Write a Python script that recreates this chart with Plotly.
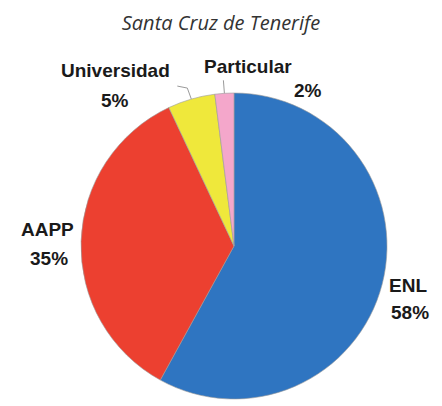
import math
import plotly.graph_objects as go

labels = ["ENL", "AAPP", "Universidad", "Particular"]
values = [58, 35, 5, 2]
colors = ["#2f75c1", "#ec4030", "#efe83b", "#f4a7cb"]

W, H = 442, 406
CX, CY, R = 234, 246, 153  # pie centre / radius in pixels


def px(x, y):
    return x / W, 1 - y / H


fig = go.Figure(go.Pie(
    labels=labels,
    values=values,
    sort=False,
    direction="clockwise",
    rotation=0,
    marker=dict(colors=colors, line=dict(color="#9a9a9a", width=0.6)),
    textinfo="none",
    domain=dict(x=[(CX - R) / W, (CX + R) / W], y=[1 - (CY + R) / H, 1 - (CY - R) / H]),
    showlegend=False,
    hoverinfo="label+percent",
))

# label placement (pixel centres of the two text lines per slice)
label_pos = {
    "ENL": ((408, 285), (410, 312)),
    "AAPP": ((47, 229), (49, 258)),
    "Universidad": ((115, 70), (115, 100)),
    "Particular": ((248, 66), (308, 90)),
}

font = dict(family="Liberation Sans, Arial, sans-serif", size=19, color="#1a1a1a")
total = sum(values)
annotations = []
for lab, val in zip(labels, values):
    (x1, y1), (x2, y2) = label_pos[lab]
    pct = round(100 * val / total)
    for txt, (x, y) in ((lab, (x1, y1)), (f"{pct}%", (x2, y2))):
        ax, ay = px(x, y)
        annotations.append(dict(
            text=f"<b>{txt}</b>", x=ax, y=ay, xref="paper", yref="paper",
            xanchor="center", yanchor="middle", showarrow=False, font=font,
        ))

# leader lines for the two small slices, starting at the slice mid-angle on the rim
shapes = []
cum = 0
for lab, val in zip(labels, values):
    mid = (cum + val / 2) / total * 2 * math.pi
    cum += val
    ex = CX + R * math.sin(mid)
    ey = CY - R * math.cos(mid)
    if lab == "Universidad":
        pts = [(ex, ey), (ex - 4, ey - 11), (ex - 14, ey - 13)]
    elif lab == "Particular":
        pts = [(ex, ey), (ex - 1, ey - 13)]
    else:
        continue
    path = "M " + " L ".join(f"{px(x, y)[0]},{px(x, y)[1]}" for x, y in pts)
    shapes.append(dict(type="path", path=path, xref="paper", yref="paper",
                       line=dict(color="#9a9a9a", width=1)))

fig.update_layout(
    width=W, height=H,
    margin=dict(l=0, r=0, t=0, b=0),
    paper_bgcolor="white",
    annotations=annotations,
    shapes=shapes,
    title=dict(
        text="<i>Santa Cruz de Tenerife</i>",
        x=0.5, xanchor="center", y=1 - 23 / H, yanchor="middle",
        font=dict(family="Open Sans, Noto Sans, sans-serif", size=20, color="#333333"),
    ),
)

fig.write_html(
    "out.html",
    config={"displayModeBar": False},
    post_script="document.body.style.margin='0';document.body.style.overflow='hidden';",
)
